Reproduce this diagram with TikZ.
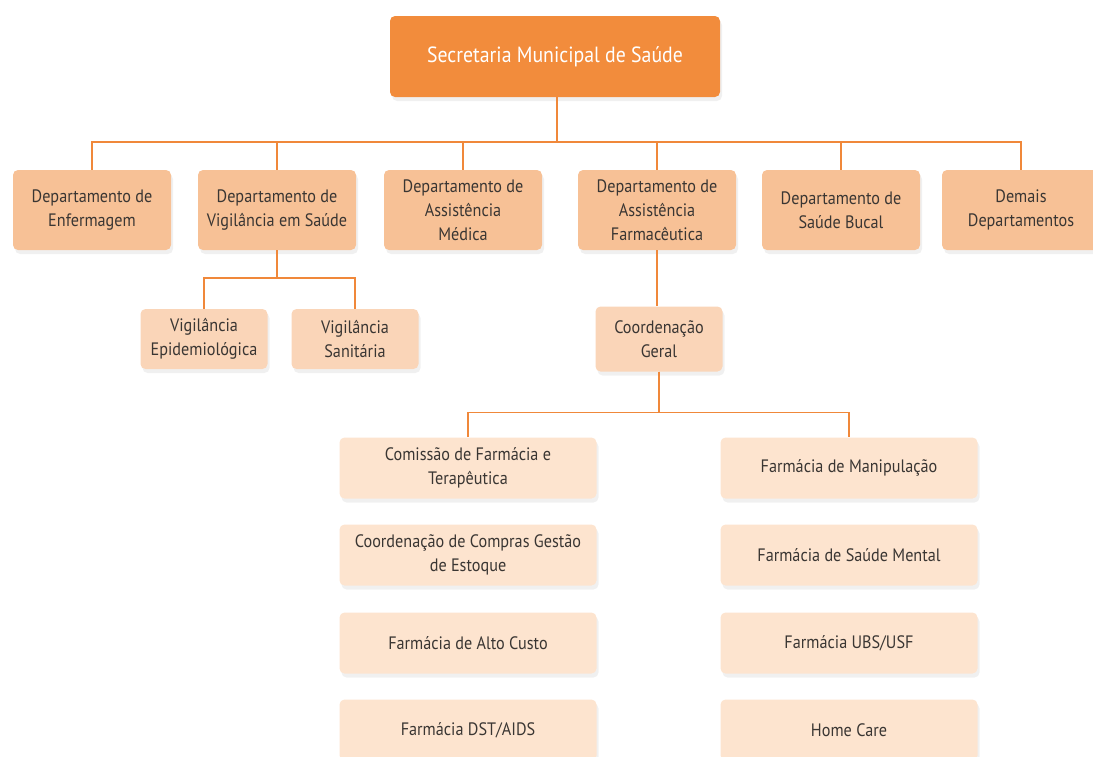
\documentclass[tikz,border=0pt]{standalone}
\usepackage{fontspec}
\setmainfont[FakeStretch=0.9]{PT Sans}
\usetikzlibrary{shadows}
\definecolor{topor}{HTML}{F28C3C}
\definecolor{deptor}{HTML}{F7C196}
\definecolor{subor}{HTML}{FAD5B8}
\definecolor{leafor}{HTML}{FDE4CF}
\definecolor{lineor}{HTML}{F0883A}
\definecolor{shade}{HTML}{E2E2E2}
\definecolor{txt}{HTML}{3A3633}
\tikzset{
  box/.style={rounded corners=5pt,align=center,text=txt,inner sep=0pt,
    font=\fontsize{18}{24}\selectfont,
    drop shadow={shadow xshift=2pt,shadow yshift=-4pt,fill=shade}},
  headbox/.style={box,fill=topor,text=white,minimum width=330,minimum height=81,
    font=\fontsize{22}{26}\selectfont},
  deptbox/.style={box,fill=deptor,minimum width=158,minimum height=80},
  subbox/.style={box,fill=subor,minimum width=127,minimum height=60},
  leafbox/.style={box,fill=leafor,minimum width=257,minimum height=61},
  link/.style={draw=lineor,line width=1.5pt}
}
\begin{document}
\begin{tikzpicture}[x=1pt,y=-1pt]
  \useasboundingbox (0,0) rectangle (1093,756);
  \clip (0,0) rectangle (1093,756);
  % secretaria
  \node[headbox] (sms) at (555,56.5) {Secretaria Municipal de Saúde};
  % departamentos
  \node[deptbox] (enf)    at (92,210)  {Departamento de\\Enfermagem};
  \node[deptbox] (vig)    at (277,210) {Departamento de\\Vigilância em Saúde};
  \node[deptbox] (ama)    at (463,210) {Departamento de\\Assistência\\Médica};
  \node[deptbox] (afa)    at (657,210) {Departamento de\\Assistência\\Farmacêutica};
  \node[deptbox] (bucal)  at (841,210) {Departamento de\\Saúde Bucal};
  \node[deptbox] (demais) at (1021,210) {Demais\\Departamentos};
  \foreach \d in {enf,vig,ama,afa,bucal,demais}
    \draw[link] (sms.south) ++(2,0) -- ++(0,45) -| (\d.north);
  % vigilancias
  \node[subbox] (epi)  at (204,339) {Vigilância\\Epidemiológica};
  \node[subbox] (sani) at (355,339) {Vigilância\\Sanitária};
  \foreach \d in {epi,sani}
    \draw[link] (vig.south) -- ++(0,28) -| (\d.north);
  % coordenacao
  \node[subbox,minimum height=65] (coord) at (659,339) {Coordenação\\Geral};
  \draw[link] (afa.south) -- (afa.south |- coord.north);
  % left column
  \node[leafbox] (cft)     at (468,468) {Comissão de Farmácia e\\Terapêutica};
  \node[leafbox] (compras) at (468,555) {Coordenação de Compras Gestão\\de Estoque};
  \node[leafbox] (alto)    at (468,643) {Farmácia de Alto Custo};
  \node[leafbox] (dst)     at (468,730) {Farmácia DST/AIDS};
  % right column
  \node[leafbox] (manip)   at (849,468) {Farmácia de Manipulação};
  \node[leafbox] (mental)  at (849,555) {Farmácia de Saúde Mental};
  \node[leafbox] (ubs)     at (849,643) {Farmácia UBS/USF};
  \node[leafbox] (home)    at (849,730) {Home Care};
  \foreach \d in {cft,manip}
    \draw[link] (coord.south) -- ++(0,41) -| (\d.north);
\end{tikzpicture}
\end{document}
